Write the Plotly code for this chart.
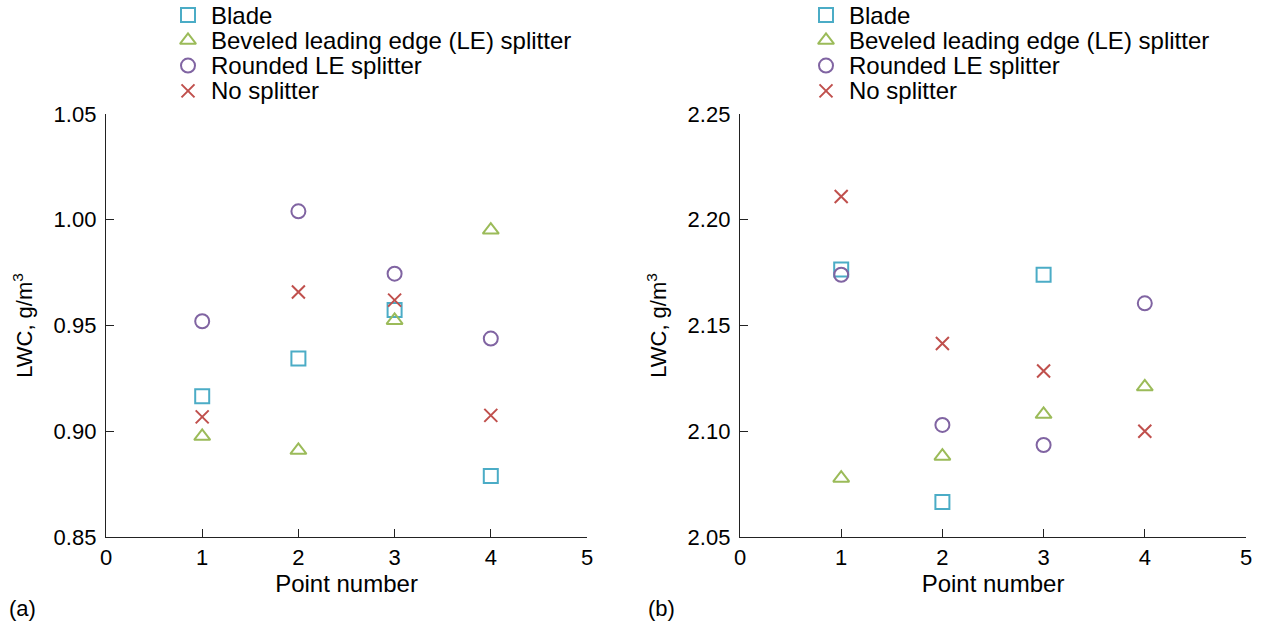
import plotly.graph_objects as go

# Point numbers along the x axis
points = [1, 2, 3, 4]

# Panel (a): LWC, g/m3
a_blade = [0.9165, 0.9344, 0.9573, 0.8788]
a_beveled = [0.8976, 0.8910, 0.9524, 0.9951]
a_rounded = [0.9520, 1.0040, 0.9745, 0.9438]
a_none = [0.9068, 0.9658, 0.9620, 0.9075]

# Panel (b): LWC, g/m3 (blade measured at points 1-3 only)
b_points_blade = [1, 2, 3]
b_blade = [2.1765, 2.0665, 2.1740]
b_beveled = [2.0778, 2.0882, 2.1080, 2.1210]
b_rounded = [2.1740, 2.1030, 2.0935, 2.1605]
b_none = [2.2110, 2.1415, 2.1285, 2.1000]

names = ["Blade", "Beveled leading edge (LE) splitter", "Rounded LE splitter", "No splitter"]
colors = ["#4bacc6", "#9bbb59", "#8064a2", "#c0504d"]
symbols = ["square-open", "triangle-up-open", "circle-open", "x-thin-open"]
sizes = [14, 14, 14, 13]

FONT = "Liberation Sans, Arial, sans-serif"
FS_TICK = 22
FS_TEXT = 24
W, H = 1262, 626

fig = go.Figure()

panels = [
    ("x", "y", [points, points, points, points], [a_blade, a_beveled, a_rounded, a_none]),
    ("x2", "y2", [b_points_blade, points, points, points], [b_blade, b_beveled, b_rounded, b_none]),
]
for xa, ya, xs, ys in panels:
    for name, color, sym, size, xv, yv in zip(names, colors, symbols, sizes, xs, ys):
        fig.add_trace(go.Scatter(
            x=xv, y=yv, mode="markers", name=name, xaxis=xa, yaxis=ya, showlegend=False,
            marker=dict(symbol=sym, size=size, color=color, line=dict(color=color, width=2)),
        ))

# Hand-built legends: key symbols on a pixel-unit overlay axis, labels as annotations
legend_keys_x = [188, 826]      # key centre, px from left
legend_text_gap = 21            # key centre to label start, px
legend_top = 15                 # first row centre, px from top
legend_row = 25.3               # row pitch, px

annotations = []
for key_x in legend_keys_x:
    rows_y = [legend_top + i * legend_row for i in range(len(names))]
    for name, color, sym, size, ry in zip(names, colors, symbols, sizes, rows_y):
        fig.add_trace(go.Scatter(
            x=[key_x], y=[ry], mode="markers", xaxis="x3", yaxis="y3", showlegend=False,
            hoverinfo="skip",
            marker=dict(symbol=sym, size=size, color=color, line=dict(color=color, width=2)),
        ))
        annotations.append(dict(
            text=name, x=key_x + legend_text_gap, y=ry, xref="x3", yref="y3",
            showarrow=False, xanchor="left", yanchor="middle", font=dict(size=FS_TEXT),
        ))

for label, px in (("(a)", 7), ("(b)", 646)):
    annotations.append(dict(
        text=label, x=px, y=608, xref="x3", yref="y3", showarrow=False,
        xanchor="left", yanchor="middle", font=dict(size=FS_TICK),
    ))

axis_common = dict(
    showline=True, linecolor="#222", linewidth=1.4, mirror=False,
    ticks="inside", ticklen=8, tickwidth=1.2, tickcolor="#222",
    showgrid=False, zeroline=False, automargin=False,
    tickfont=dict(size=FS_TICK, color="black", family=FONT),
)
ytitle = dict(text="LWC, g/m<sup>3</sup>", font=dict(size=FS_TICK), standoff=14)
xtitle = dict(text="Point number", font=dict(size=FS_TEXT), standoff=6)

fig.update_layout(
    width=W, height=H,
    margin=dict(l=0, r=0, t=0, b=0, autoexpand=False),
    paper_bgcolor="white", plot_bgcolor="rgba(0,0,0,0)",
    font=dict(family=FONT, size=FS_TICK, color="black"),
    showlegend=False,
    xaxis=dict(domain=[106 / W, 587 / W], range=[0, 5], dtick=1, anchor="y", title=xtitle, **axis_common),
    yaxis=dict(domain=[1 - 537 / H, 1 - 114 / H], range=[0.85, 1.05], dtick=0.05, tickformat=".2f",
               anchor="x", title=ytitle, ticklabelstandoff=4, **axis_common),
    xaxis2=dict(domain=[740 / W, 1246 / W], range=[0, 5], dtick=1, anchor="y2", title=xtitle, **axis_common),
    yaxis2=dict(domain=[1 - 537 / H, 1 - 114 / H], range=[2.05, 2.25], dtick=0.05, tickformat=".2f",
                anchor="x2", title=ytitle, ticklabelstandoff=4, **axis_common),
    xaxis3=dict(domain=[0, 1], range=[0, W], visible=False, fixedrange=True, automargin=False),
    yaxis3=dict(domain=[0, 1], range=[H, 0], visible=False, fixedrange=True, automargin=False, anchor="x3"),
    annotations=annotations,
)

fig.write_html("out.html")
